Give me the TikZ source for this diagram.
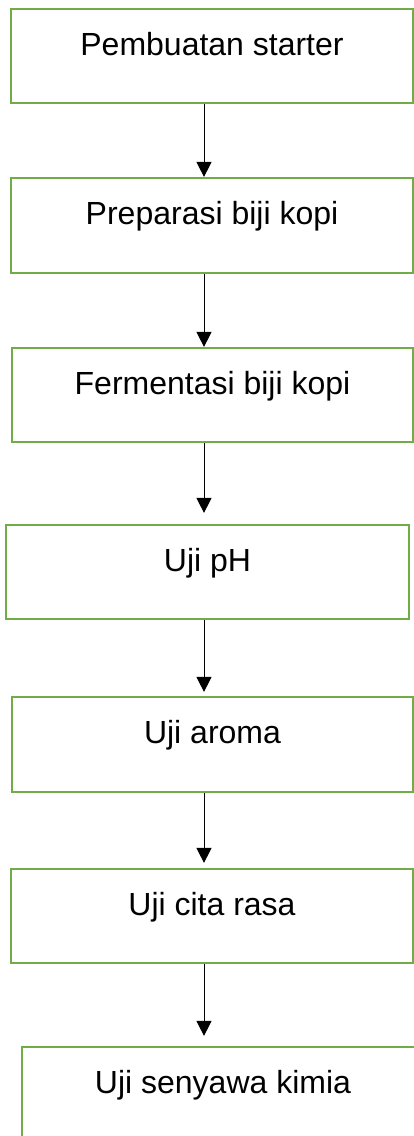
\documentclass[tikz,border=0pt]{standalone}
\usepackage{fontspec}
\setmainfont{Liberation Sans}
\usetikzlibrary{arrows.meta}
\definecolor{boxgreen}{HTML}{70AD47}
\tikzset{
  stepbox/.style={draw=boxgreen, line width=2.2pt, rectangle, inner sep=0pt,
    minimum width=#1, text height=46pt, text depth=48pt,
    font=\fontsize{32}{38}\selectfont, align=center},
  stepbox/.default=402pt,
  flow/.style={draw=black, line width=1pt, -{Triangle[width=15pt,length=15pt]}}
}
\begin{document}
\begin{tikzpicture}[x=1pt,y=-1pt]
\useasboundingbox (0,0) rectangle (414,1136);
\node[stepbox] (b1) at (212,56) {Pembuatan starter};
\node[stepbox, text depth=49pt] (b2) at (212,225.5) {Preparasi biji kopi};
\node[stepbox=401pt] (b3) at (212.5,395) {Fermentasi biji kopi};
\node[stepbox=403pt] (b4) at (207.5,572) {Uji pH};
\node[stepbox=401pt, text depth=49pt] (b5) at (212.5,744.5) {Uji aroma};
\node[stepbox] (b6) at (212,916) {Uji cita rasa};
\node[stepbox] (b7) at (223,1094) {Uji senyawa kimia};
\coordinate (ax) at (204,0);
\draw[flow] (b1.south -| ax) -- (b2.north -| ax);
\draw[flow] (b2.south -| ax) -- (b3.north -| ax);
\draw[flow, shorten >=11pt] (b3.south -| ax) -- (b4.north -| ax);
\draw[flow, shorten >=4pt] (b4.south -| ax) -- (b5.north -| ax);
\draw[flow, shorten >=5pt] (b5.south -| ax) -- (b6.north -| ax);
\draw[flow, shorten >=10pt] (b6.south -| ax) -- (b7.north -| ax);
\end{tikzpicture}
\end{document}
